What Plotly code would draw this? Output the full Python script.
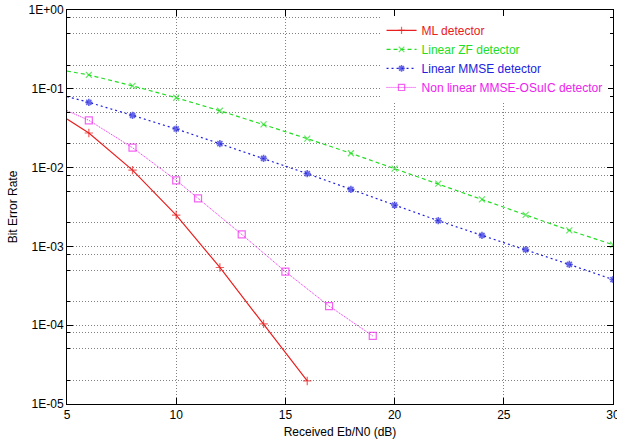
import plotly.graph_objects as go

# ---- data ----
ml_x = [5, 6, 8, 10, 12, 14, 16]
ml_y = [0.0414, 0.0275, 0.0093, 0.0025, 5.4e-4, 1.04e-4, 1.96e-5]

zf_x = [5, 6, 8, 10, 12, 14, 16, 18, 20, 22, 24, 26, 28, 30]
zf_y = [0.168, 0.150, 0.109, 0.077, 0.0527, 0.0354, 0.0233, 0.0152,
        0.0097, 0.00625, 0.00396, 0.00251, 0.0016, 0.00105]

mmse_x = [5, 6, 8, 10, 12, 14, 16, 18, 20, 22, 24, 26, 28, 30]
mmse_y = [0.0794, 0.0673, 0.046, 0.0309, 0.0201, 0.0131, 0.00838, 0.0053,
          0.00335, 0.00212, 0.00138, 9.1e-4, 5.9e-4, 3.8e-4]

osic_x = [5, 6, 8, 10, 11, 13, 15, 17, 19]
osic_y = [0.0527, 0.0398, 0.0179, 0.0069, 0.00407, 0.00142, 4.78e-4, 1.75e-4, 7.3e-5]

names = ["ML detector", "Linear ZF detector", "Linear MMSE detector",
         "Non linear MMSE-OSuIC detector"]

x_ticks = [5, 10, 15, 20, 25, 30]
y_major = [1e-5, 1e-4, 1e-3, 1e-2, 1e-1, 1]
y_labels = ["1E-05", "1E-04", "1E-03", "1E-02", "1E-01", "1E+00"]
y_minor = [m * d for d in [1e-5, 1e-4, 1e-3, 1e-2, 1e-1] for m in (2, 5, 8)]

# ---- styling ----
RED, GREEN, BLUE, MAG = "#e82020", "#22dd22", "#2222dd", "#ee22ee"
FONT = "Liberation Sans, Arial, sans-serif"
GRID = "#808080"
GDASH = "1px,2px"


def sizes(xs, size):
    # first point is the line start at the left border (no marker drawn there)
    return [0 if x == 5 else size for x in xs]


fig = go.Figure()
fig.add_trace(go.Scatter(
    x=ml_x, y=ml_y, mode="lines+markers",
    name=f"<span style='color:{RED}'>{names[0]}</span>",
    line=dict(color=RED, width=1.2),
    marker=dict(symbol="cross-thin-open", size=sizes(ml_x, 6),
                line=dict(color=RED, width=1.2))))
fig.add_trace(go.Scatter(
    x=zf_x, y=zf_y, mode="lines+markers",
    name=f"<span style='color:{GREEN}'>{names[1]}</span>",
    line=dict(color=GREEN, width=1.2, dash="4px,3px"),
    marker=dict(symbol="x-thin-open", size=sizes(zf_x, 6),
                line=dict(color=GREEN, width=1.2))))
fig.add_trace(go.Scatter(
    x=mmse_x, y=mmse_y, mode="lines+markers",
    name=f"<span style='color:{BLUE}'>{names[2]}</span>",
    line=dict(color=BLUE, width=1.2, dash="2px,3px"),
    marker=dict(symbol="asterisk-open", size=sizes(mmse_x, 6),
                line=dict(color=BLUE, width=1.6))))
fig.add_trace(go.Scatter(
    x=osic_x, y=osic_y, mode="lines+markers",
    name=f"<span style='color:{MAG}'>{names[3]}</span>",
    line=dict(color=MAG, width=1, dash="1px,1px"),
    marker=dict(symbol="square-open", size=sizes(osic_x, 7),
                line=dict(color=MAG, width=1.2))))

axis_common = dict(
    showline=True, linecolor="black", linewidth=1, mirror="ticks",
    ticks="inside", tickcolor="black", ticklen=6,
    showgrid=True, gridcolor=GRID, griddash=GDASH, gridwidth=1,
    zeroline=False, tickfont=dict(family=FONT, size=12, color="black"),
)

fig.update_xaxes(
    range=[5, 30], tickmode="array", tickvals=x_ticks,
    ticklabeloverflow="allow",
    title=dict(text="Received Eb/N0 (dB)", font=dict(family=FONT, size=12, color="black"),
               standoff=6),
    **axis_common)
fig.update_yaxes(
    type="log", range=[-5, 0], tickmode="array", tickvals=y_major, ticktext=y_labels,
    minor=dict(tickmode="array", tickvals=y_minor, ticks="inside", ticklen=3,
               tickcolor="black", showgrid=True, gridcolor=GRID,
               griddash=GDASH, gridwidth=1),
    title=dict(text="Bit Error Rate", font=dict(family=FONT, size=12, color="black"),
               standoff=8),
    **axis_common)

fig.update_layout(
    width=617, height=439,
    margin=dict(l=67, r=4, t=10, b=35, autoexpand=False),
    paper_bgcolor="white", plot_bgcolor="white",
    font=dict(family=FONT, size=12, color="black"),
    showlegend=True,
    legend=dict(x=0.99, y=0.985, xanchor="right", yanchor="top",
                bgcolor="white", borderwidth=0,
                font=dict(family=FONT, size=12),
                tracegroupgap=0, itemwidth=30),
)

fig.write_html("out.html")
